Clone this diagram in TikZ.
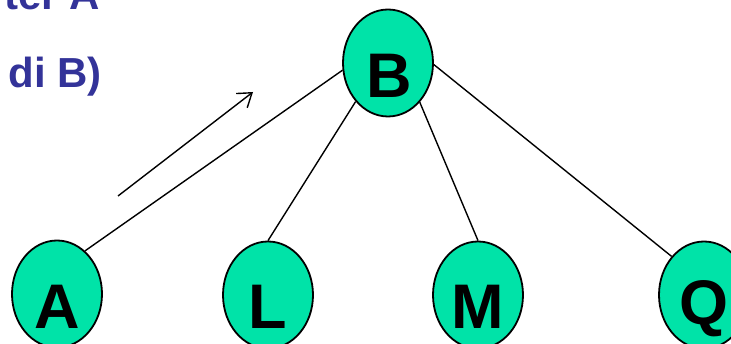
\documentclass[tikz,border=0pt]{standalone}
\usepackage{fontspec}
\setmainfont{Liberation Sans}
\usetikzlibrary{shapes.geometric,arrows.meta}
\definecolor{nodegreen}{HTML}{00E3A8}
\definecolor{textblue}{HTML}{333399}
\tikzset{
  treenode/.style={ellipse,draw=black,line width=1.8pt,fill=nodegreen,minimum width=90pt,minimum height=107pt,inner sep=0pt},
  letter/.style={font=\fontsize{63}{63}\selectfont\bfseries,text=black,inner sep=0pt},
  edge/.style={draw=black,line width=1.4pt},
  caption/.style={font=\fontsize{42}{42}\selectfont\bfseries,text=textblue,inner sep=0pt,anchor=base east}
}
\begin{document}
\begin{tikzpicture}[x=1pt,y=-1pt]
\clip (0,0) rectangle (731,344);
\fill[white] (0,0) rectangle (731,344);
\node[caption] (t1) at (100,10) {ter A};
\node[caption] (t2) at (102,88) {di B)};
\node[treenode] (B) at (388,63) {};
\node[treenode] (A) at (57,294) {};
\node[treenode] (L) at (268,295) {};
\node[treenode] (M) at (478,295) {};
\node[treenode] (Q) at (704,295) {};
\node[letter] (Bl) at (389,76) {B};
\node[letter] (Al) at (57,307) {A};
\node[letter] (Ll) at (268,307) {L};
\node[letter] (Ml) at (478,307) {M};
\node[letter] (Ql) at (704,309) {Q};
\draw[edge] (A.57) -- (B.189);
\draw[edge] (B.230) -- (L.north);
\draw[edge] (B.309) -- (M.north);
\draw[edge] (B.358) -- (Q.130);
\coordinate (s) at (118,196);
\coordinate (e) at (253,92);
\draw[edge,-{Straight Barb[length=13pt,width=18pt,line width=1.4pt]}] (s) -- (e);
\end{tikzpicture}
\end{document}
